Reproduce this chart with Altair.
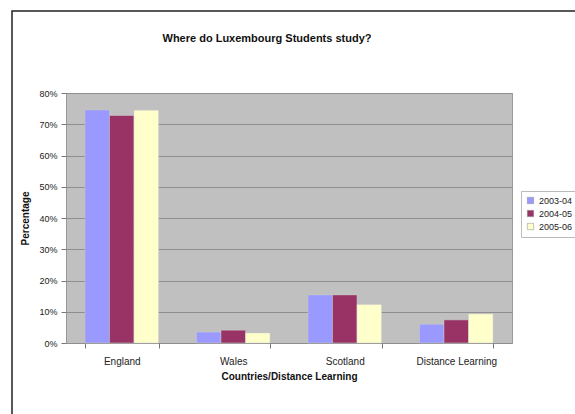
import altair as alt
import pandas as pd

categories = ["England", "Wales", "Scotland", "Distance Learning"]
years = ["2003-04", "2004-05", "2005-06"]
v2003 = [74.6, 3.5, 15.4, 6.0]
v2004 = [72.8, 4.1, 15.4, 7.4]
v2005 = [74.5, 3.2, 12.3, 9.3]
colors = ["#9999ff", "#993366", "#ffffcc"]

rows = []
for y, vals in zip(years, [v2003, v2004, v2005]):
    for c, v in zip(categories, vals):
        rows.append({"Country": c, "Year": y, "Value": v})
df = pd.DataFrame(rows)

font = "Liberation Sans"

bars = alt.Chart(df).mark_bar(stroke="#cccccc", strokeWidth=0.5).encode(
    x=alt.X("Country:N", sort=categories,
            scale=alt.Scale(paddingInner=0.34, paddingOuter=0.17),
            axis=alt.Axis(title="Countries/Distance Learning", labelAngle=0,
                          labelFontSize=10, labelColor="#222", titleFontSize=10,
                          titleFontWeight="bold", titleColor="#111",
                          domain=False, ticks=True, tickColor="#777",
                          tickBand="extent", labelPadding=8, titlePadding=5)),
    xOffset=alt.XOffset("Year:N", sort=years),
    y=alt.Y("Value:Q", scale=alt.Scale(domain=[0, 80]),
            axis=alt.Axis(title="Percentage", values=list(range(0, 81, 10)),
                          labelExpr="datum.value + '%'", labelFontSize=9,
                          labelColor="#222", titleFontSize=10, titleFontWeight="bold",
                          titleColor="#111", grid=True, gridColor="#8f8f8f",
                          domain=False, tickColor="#777", tickSize=5,
                          labelPadding=4, titlePadding=8)),
    color=alt.Color("Year:N", sort=years,
                    scale=alt.Scale(domain=years, range=colors),
                    legend=alt.Legend(title=None, orient="none", legendX=455, legendY=98,
                                      symbolType="square", symbolSize=40,
                                      symbolStrokeColor="#888", symbolStrokeWidth=0.5,
                                      labelFontSize=9, labelColor="#222",
                                      fillColor="white", strokeColor="#bbbbbb",
                                      padding=5, rowPadding=3)),
)

frame = alt.Chart(pd.DataFrame({"k": [0]})).mark_rect(
    fill=None, stroke="#222", strokeWidth=1.5
).encode(x=alt.value(-54), x2=alt.value(540), y=alt.value(-82), y2=alt.value(345))

chart = alt.layer(frame, bars).properties(
    width=446, height=250,
    title=alt.TitleParams("Where do Luxembourg Students study?", fontSize=11,
                          fontWeight="bold", font=font, color="#111",
                          offset=-34, dx=-22),
    autosize=alt.AutoSizeParams(type="none"),
    padding={"left": 66, "top": 93, "right": 63, "bottom": 71},
).configure(font=font, background="white").configure_view(
    fill="#c0c0c0", stroke="#999999"
)

chart.save("out.html", embed_options={"renderer": "svg", "actions": False})
